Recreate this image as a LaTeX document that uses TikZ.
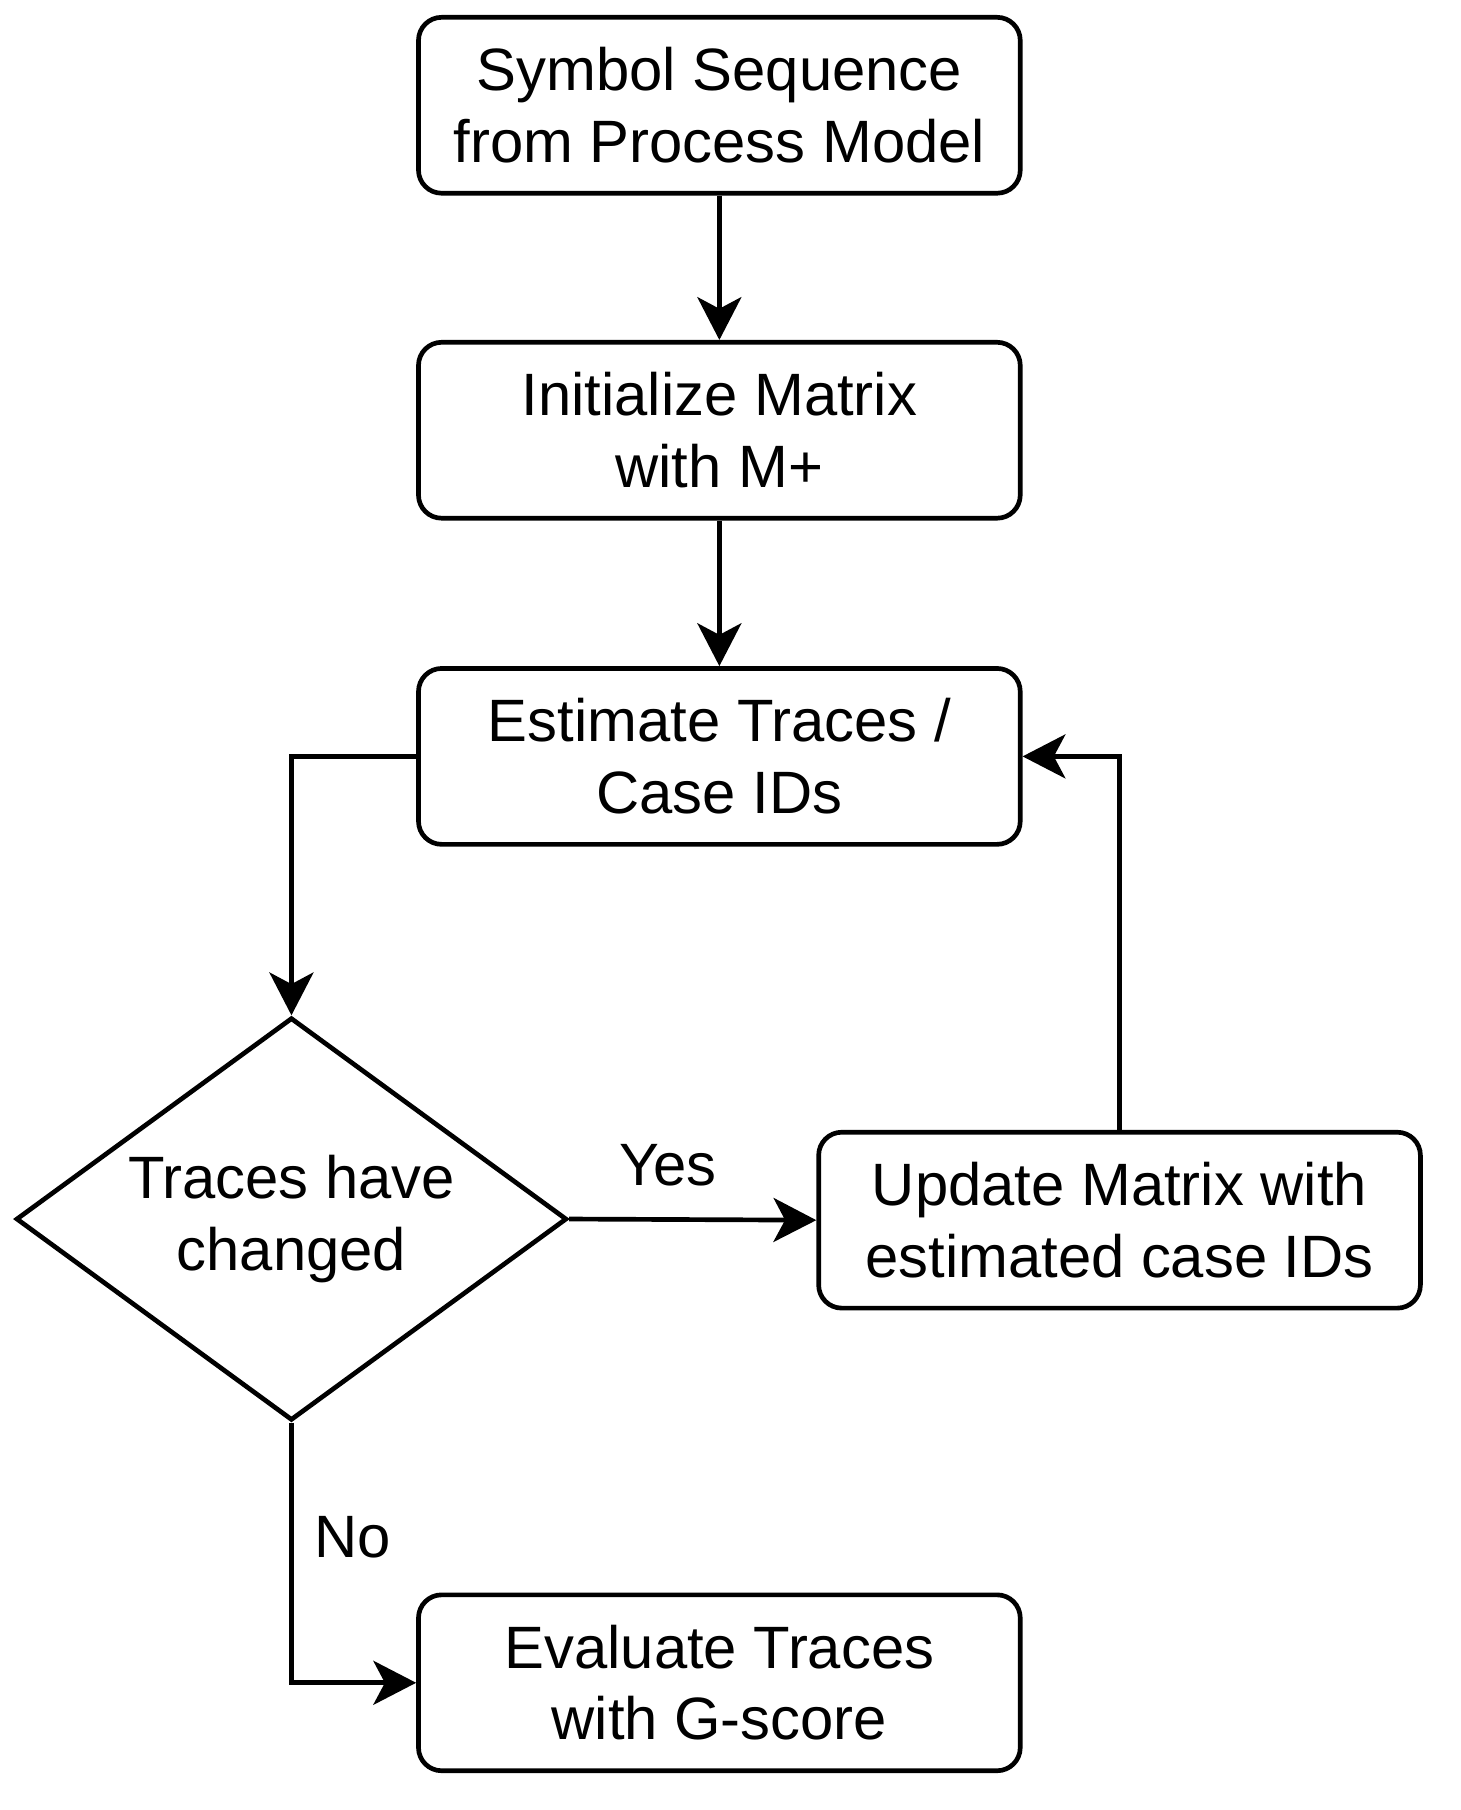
\documentclass[tikz,border=0pt]{standalone}
\usepackage{fontspec}
\setmainfont{Liberation Sans}
\usetikzlibrary{arrows.meta,shapes.geometric}

\begin{document}
\begin{tikzpicture}[x=0.01cm,y=-0.01cm,
		every node/.style={font=\fontsize{14.7}{17.6}\selectfont},
		stepbox/.style={draw,line width=1.15pt,rounded corners=0.2cm,align=center,minimum width=5.2cm,minimum height=1.52cm,inner sep=0},
		decision/.style={draw,line width=1.15pt,diamond,aspect=1.37,align=center,minimum width=4.76cm,minimum height=3.48cm,inner sep=0},
		arr/.style={line width=1.15pt,-{Stealth[length=0.37cm,width=0.38cm,inset=0.1cm]}},
		lbl/.style={inner sep=0}]
		
		\useasboundingbox (0,0) rectangle (1263,1565);
		
		\node[stepbox] (sym) at (622,91) {Symbol Sequence\\from Process Model};
		\node[stepbox] (init) at (622,372) {Initialize Matrix\\with M+};
		\node[stepbox] (est) at (622,654) {Estimate Traces /\\Case IDs};
		\node[decision] (chg) at (252,1054) {Traces have\\changed};
		\node[stepbox] (upd) at (968,1055) {Update Matrix with\\estimated case IDs};
		\node[stepbox] (eval) at (622,1455) {Evaluate Traces\\with G-score};
		
		\draw[arr] (sym) -- (init);
		\draw[arr] (init) -- (est);
		\draw[arr] (est.west) -| (chg.north);
		\draw[arr] (chg.east) -- node[lbl,pos=0.4,above=0.27cm] {Yes} (upd.west);
		\draw[arr] (upd.north) |- (est.east);
		\draw[arr] (chg.south) |- node[lbl,pos=0.22,right=0.18cm] {No} (eval.west);
	
	\end{tikzpicture}
\end{document}
